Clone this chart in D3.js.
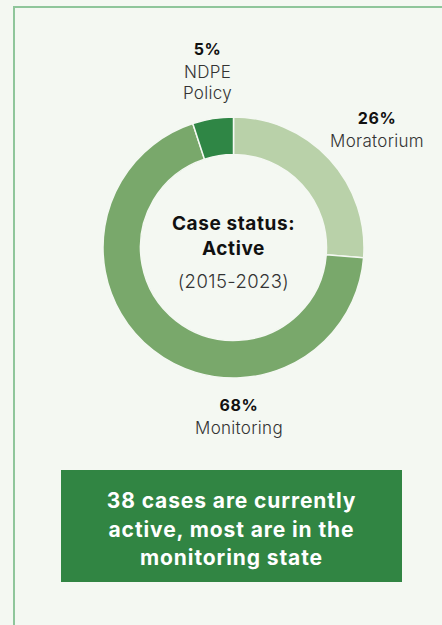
<!DOCTYPE html>
<html>
<head>
<meta charset="utf-8">
<script src="https://cdn.jsdelivr.net/npm/d3@7/dist/d3.min.js"></script>
<style>
  html, body { margin: 0; padding: 0; background: #f4f8f2; }
  svg { display: block; }
  text { font-family: "Inter", "Roboto", sans-serif; }
</style>
</head>
<body>
<svg id="chart" width="442" height="625"></svg>
<script>
// Case status breakdown (share of active cases, %)
const categories = ["Moratorium", "Monitoring", "NDPE\nPolicy"];
const shares = [26, 68, 5];
const colors = ["#b9d1a9", "#79a86b", "#2f8645"];

const centerTitle = ["Case status:", "Active"];
const centerSub = "(2015-2023)";
const callout = ["38 cases are currently", "active, most are in the", "monitoring state"];

const W = 442, H = 625;
const svg = d3.select("#chart");

svg.append("rect").attr("width", W).attr("height", H).attr("fill", "#f4f8f2");

// panel frame: top and left rule
svg.append("path")
  .attr("d", `M14,${H} L14,7 L${W},7`)
  .attr("fill", "none")
  .attr("stroke", "#8fc69b")
  .attr("stroke-width", 2);

const cx = 233.5, cy = 247.5, rOuter = 130.5, rInner = 93;

const data = categories.map((c, i) => ({ name: c, value: shares[i], color: colors[i] }));

const pie = d3.pie().sort(null).value(d => d.value);
const arc = d3.arc().innerRadius(rInner).outerRadius(rOuter);

const g = svg.append("g").attr("transform", `translate(${cx},${cy})`);
g.selectAll("path.slice")
  .data(pie(data))
  .join("path")
  .attr("class", "slice")
  .attr("d", arc)
  .attr("fill", d => d.data.color)
  .attr("stroke", "#f4f8f2")
  .attr("stroke-width", 1.5);

// slice labels: bold percentage over category name
const labelPos = [
  { x: 377, y: 124 },
  { x: 239, y: 411 },
  { x: 207.5, y: 55 }
];
const labels = svg.append("g");
data.forEach((d, i) => {
  const p = labelPos[i];
  const t = labels.append("text")
    .attr("x", p.x).attr("y", p.y)
    .attr("text-anchor", "middle");
  t.append("tspan")
    .attr("x", p.x)
    .attr("font-weight", 700)
    .attr("font-size", 16)
    .attr("letter-spacing", 0.6)
    .attr("fill", "#111")
    .text(d.value + "%");
  d.name.split("\n").forEach((line, j) => {
    t.append("tspan")
      .attr("x", p.x)
      .attr("dy", j === 0 ? 22.5 : 21.5)
      .attr("font-size", 17)
      .attr("font-weight", 300)
      .attr("letter-spacing", 0.3)
      .attr("fill", "#333")
      .text(line);
  });
});

// centre caption
const ct = svg.append("g").attr("text-anchor", "middle");
centerTitle.forEach((line, i) => {
  ct.append("text")
    .attr("x", cx).attr("y", 230 + i * 25)
    .attr("font-size", 19)
    .attr("font-weight", 700)
    .attr("letter-spacing", 0.6)
    .attr("fill", "#111")
    .text(line);
});
ct.append("text")
  .attr("x", cx).attr("y", 288)
  .attr("font-size", 18.5)
  .attr("font-weight", 300)
  .attr("letter-spacing", 0.4)
  .attr("fill", "#333")
  .text(centerSub);

// callout box
const box = { x: 61, y: 470, w: 341, h: 112 };
svg.append("rect")
  .attr("x", box.x).attr("y", box.y)
  .attr("width", box.w).attr("height", box.h)
  .attr("fill", "#318543");
const bt = svg.append("g").attr("text-anchor", "middle");
callout.forEach((line, i) => {
  bt.append("text")
    .attr("x", box.x + box.w / 2)
    .attr("y", 508 + i * 28.5)
    .attr("font-size", 21)
    .attr("font-weight", 700)
    .attr("letter-spacing", 0.9)
    .attr("fill", "#ffffff")
    .text(line);
});
</script>
</body>
</html>
